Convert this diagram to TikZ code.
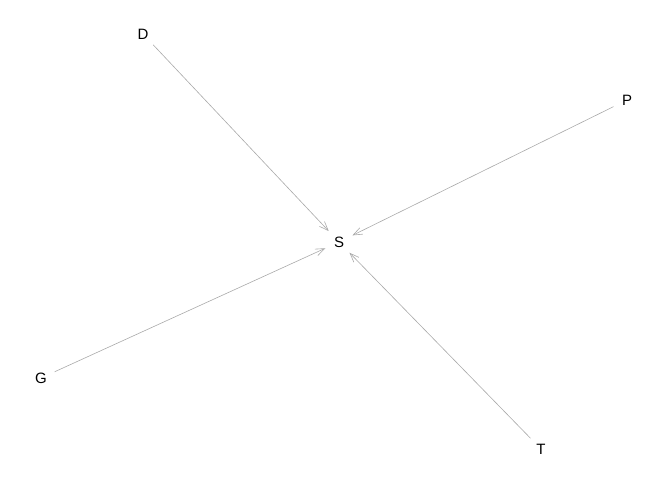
\documentclass[tikz,border=0pt]{standalone}
\usepackage{fontspec}
\setmainfont{Liberation Sans}
\usetikzlibrary{arrows.meta}
\definecolor{edgegrey}{HTML}{A9A9A9}

\begin{document}
\begin{tikzpicture}[x=1pt,y=-1pt,
  vertex/.style={circle,minimum size=30pt,inner sep=0pt,outer sep=0pt,
    font=\fontsize{15}{18}\selectfont},
  link/.style={draw=edgegrey,line width=0.6pt,
    -{Straight Barb[length=9pt,width=7pt]}}]
  \useasboundingbox (0,0) rectangle (672,480);

  %% vertices
  \node[vertex] (S) at (339,242) {S};
  \node[vertex] (D) at (143,34) {D};
  \node[vertex] (P) at (627,100) {P};
  \node[vertex] (G) at (41,378) {G};
  \node[vertex] (T) at (541,449) {T};

  %% edges
  \draw[link] (D) -- (S);
  \draw[link] (P) -- (S);
  \draw[link] (G) -- (S);
  \draw[link] (T) -- (S);
\end{tikzpicture}
\end{document}
